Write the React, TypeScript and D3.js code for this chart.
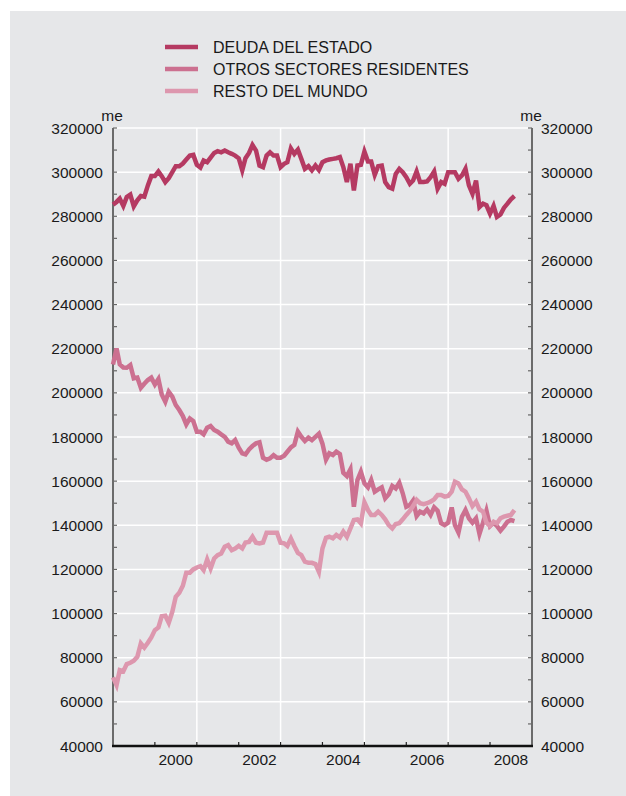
import React, { useRef, useEffect } from 'react';
import * as d3 from 'd3';

// monthly values, Jan 1999 .. Aug 2008 (me)
const deudaEstado = [
  285300, 286500, 288000, 284700, 288700, 289800, 284500, 287200, 289200, 288900,
  294000, 298200, 298200, 300300, 298200, 295500, 297300, 300000, 302700, 302700,
  303900, 305700, 307500, 307800, 303300, 302100, 305300, 304500, 306600, 308700,
  309500, 309000, 309800, 309000, 308300, 307500, 306300, 300800, 306300, 308700,
  312300, 309800, 303000, 302300, 307500, 309000, 307500, 307500, 302300, 303800,
  304500, 310800, 308300, 310200, 306000, 301500, 302700, 300800, 303000, 301000,
  304500, 305300, 305700, 306000, 306300, 306800, 302300, 295500, 303800, 291700,
  303000, 303300, 309300, 304800, 304800, 298800, 302700, 303000, 295500, 293200,
  292500, 299200, 301500, 300000, 297700, 294700, 296200, 300300, 295500, 295500,
  295800, 297700, 300300, 292500, 295500, 294700, 300000, 300000, 300000, 297000,
  298500, 301500, 294000, 290200, 296200, 284200, 285700, 285000, 281200, 284700,
  279700, 280800, 283800, 285700, 287700, 289200,
];

const otrosSectores = [
  212900, 220100, 212900, 211500, 211400, 212600, 206600, 206900, 202300, 204100,
  205800, 206900, 203800, 206300, 199300, 196000, 200500, 198300, 194500, 192200,
  189500, 185700, 188400, 187200, 182400, 182400, 181200, 184200, 185000, 183200,
  182400, 181200, 180100, 177900, 177100, 178600, 175200, 172600, 172100, 174400,
  175900, 177100, 177600, 170600, 169700, 170300, 171800, 170600, 170600, 171500,
  173300, 175300, 176400, 182400, 180100, 178200, 179700, 178600, 180100, 181500,
  177000, 169800, 172600, 171800, 173400, 172300, 163800, 162300, 165400, 148400,
  160500, 164300, 159000, 157200, 160500, 155200, 156300, 157200, 152200, 154000,
  157800, 156700, 159300, 154500, 148400, 149200, 151200, 144200, 146200, 145400,
  147200, 144700, 148100, 146600, 140900, 140100, 141200, 148100, 140100, 136700,
  143900, 146900, 143200, 141200, 143200, 136100, 141200, 146600, 139700, 141200,
  139700, 137600, 139400, 141600, 142400, 141900,
];

const restoMundo = [
  71100, 67600, 74400, 73900, 77100, 77700, 78600, 80400, 86500, 84600,
  86800, 89200, 92500, 93700, 98800, 99000, 95800, 100800, 107600, 109400,
  112600, 118500, 118500, 120000, 120900, 121500, 119700, 124500, 120400, 125000,
  126500, 127200, 130300, 131000, 128700, 129500, 130700, 129500, 132200, 132500,
  134800, 132100, 131800, 132200, 136600, 136600, 136600, 136600, 132100, 131800,
  130600, 134000, 130600, 127500, 126500, 123500, 123000, 123000, 122400, 118900,
  129500, 134300, 134800, 134100, 135600, 134500, 137100, 134800, 138600, 142400,
  142700, 140900, 150400, 146900, 144700, 144700, 146200, 144700, 142700, 140100,
  138600, 140600, 140900, 142700, 144700, 146500, 148700, 151500, 150000, 149600,
  150000, 150700, 151800, 153700, 153700, 153000, 153300, 155200, 159800, 159000,
  156300, 155200, 152200, 148700, 150700, 147200, 146200, 141200, 139700, 141600,
  140900, 143200, 143900, 144300, 144700, 146900,
];

const seriesNames = ['DEUDA DEL ESTADO', 'OTROS SECTORES RESIDENTES', 'RESTO DEL MUNDO'];
const seriesColors = ['#b53a62', '#cc7090', '#dd97ae'];
const yTicks = [40000, 60000, 80000, 100000, 120000, 140000, 160000, 180000, 200000, 220000, 240000, 260000, 280000, 300000, 320000];
const yearLabels = [2000, 2002, 2004, 2006, 2008];
const gridYears = [2001, 2003, 2005, 2007];

const FONT = '"Liberation Sans", Arial, Helvetica, sans-serif';

export default function App() {
  const ref = useRef<SVGSVGElement | null>(null);

  useEffect(() => {
    const svg = d3.select(ref.current);
    svg.selectAll('*').remove();

    const W = 626;
    const H = 796;
    const left = 113;
    const right = 532;
    const top = 128;
    const bottom = 746;

    svg.attr('width', W).attr('height', H);

    // background panel
    svg.append('rect')
      .attr('x', 10).attr('y', 11)
      .attr('width', W - 10).attr('height', H - 11)
      .attr('fill', '#e6e7e9');

    const x = d3.scaleTime()
      .domain([new Date(1999, 0, 1), new Date(2009, 0, 1)])
      .range([left, right]);

    const y = d3.scaleLinear()
      .domain([40000, 320000])
      .range([bottom, top]);

    const months = deudaEstado.map((_, i) => new Date(1999, i, 1));

    // grid lines
    svg.append('g')
      .selectAll('line')
      .data(yTicks.slice(1))
      .join('line')
      .attr('x1', left).attr('x2', right)
      .attr('y1', d => y(d)).attr('y2', d => y(d))
      .attr('stroke', '#fff').attr('stroke-width', 1.5);

    svg.append('g')
      .selectAll('line')
      .data(gridYears)
      .join('line')
      .attr('x1', d => x(new Date(d, 0, 1))).attr('x2', d => x(new Date(d, 0, 1)))
      .attr('y1', top).attr('y2', bottom)
      .attr('stroke', '#fff').attr('stroke-width', 1.5);

    // minor ticks every 10000
    const minor = d3.range(50000, 320001, 10000);
    const ticks = svg.append('g').attr('stroke', '#666').attr('stroke-width', 1.2);
    ticks.selectAll('line.l')
      .data(minor)
      .join('line')
      .attr('class', 'l')
      .attr('x1', left).attr('x2', left + 4)
      .attr('y1', d => y(d)).attr('y2', d => y(d));
    ticks.selectAll('line.r')
      .data(minor)
      .join('line')
      .attr('class', 'r')
      .attr('x1', right - 4).attr('x2', right)
      .attr('y1', d => y(d)).attr('y2', d => y(d));

    // x ticks each year
    svg.append('g')
      .selectAll('line')
      .data(d3.range(2000, 2009))
      .join('line')
      .attr('x1', d => x(new Date(d, 0, 1))).attr('x2', d => x(new Date(d, 0, 1)))
      .attr('y1', bottom).attr('y2', bottom - 4)
      .attr('stroke', '#222').attr('stroke-width', 1.2);

    // side axes
    svg.append('line')
      .attr('x1', left).attr('x2', left).attr('y1', top).attr('y2', bottom)
      .attr('stroke', '#6b6b6b').attr('stroke-width', 2);
    svg.append('line')
      .attr('x1', right).attr('x2', right).attr('y1', top).attr('y2', bottom)
      .attr('stroke', '#6b6b6b').attr('stroke-width', 2);
    svg.append('line')
      .attr('x1', left - 1).attr('x2', right + 1).attr('y1', bottom).attr('y2', bottom)
      .attr('stroke', '#111').attr('stroke-width', 2.5);

    // y labels both sides
    const labels = svg.append('g').attr('font-family', FONT).attr('font-size', 15.5).attr('fill', '#1a1a1a');
    labels.selectAll('text.l')
      .data(yTicks)
      .join('text')
      .attr('class', 'l')
      .attr('x', 103).attr('y', d => y(d) + 5.5)
      .attr('text-anchor', 'end')
      .text(d => d);
    labels.selectAll('text.r')
      .data(yTicks)
      .join('text')
      .attr('class', 'r')
      .attr('x', 541).attr('y', d => y(d) + 5.5)
      .text(d => d);
    labels.selectAll('text.x')
      .data(yearLabels)
      .join('text')
      .attr('class', 'x')
      .attr('x', d => x(new Date(d, 6, 1)))
      .attr('y', 765)
      .attr('text-anchor', 'middle')
      .text(d => d);
    labels.append('text').attr('x', 112).attr('y', 121).attr('text-anchor', 'middle').text('me');
    labels.append('text').attr('x', 531).attr('y', 121).attr('text-anchor', 'middle').text('me');

    // lines
    const line = d3.line<number>()
      .x((_, i) => x(months[i]))
      .y(d => y(d));

    [deudaEstado, otrosSectores, restoMundo].forEach((data, i) => {
      svg.append('path')
        .datum(data)
        .attr('d', line)
        .attr('fill', 'none')
        .attr('stroke', seriesColors[i])
        .attr('stroke-width', 4.5);
    });

    // legend
    const legend = svg.append('g').attr('font-family', FONT).attr('font-size', 16).attr('fill', '#1a1a1a');
    seriesNames.forEach((name, i) => {
      const ly = 47 + i * 22;
      legend.append('line')
        .attr('x1', 165).attr('x2', 198).attr('y1', ly).attr('y2', ly)
        .attr('stroke', seriesColors[i]).attr('stroke-width', 4.5);
      legend.append('text')
        .attr('x', 213).attr('y', ly + 6)
        .text(name);
    });
  }, []);

  return <svg ref={ref} style={{ position: 'absolute', left: 0, top: 0, display: 'block' }} />;
}
